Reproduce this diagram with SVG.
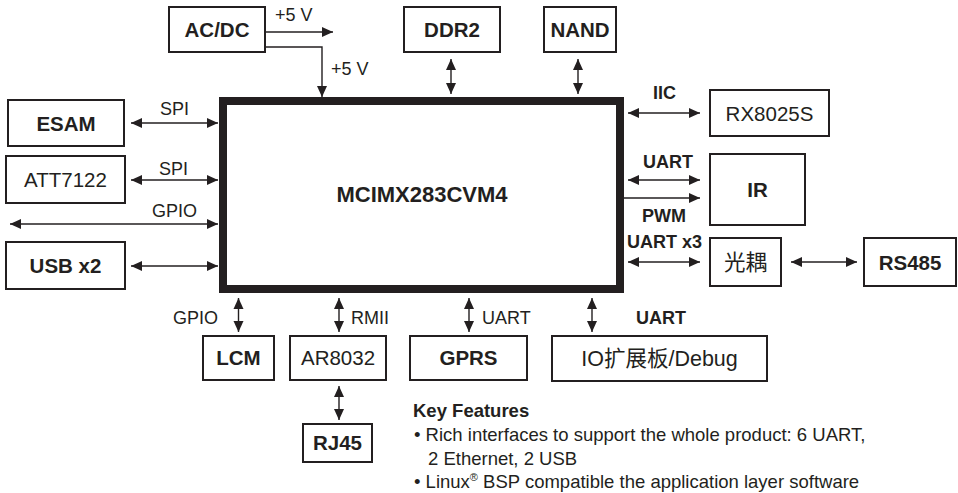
<svg xmlns="http://www.w3.org/2000/svg" width="958" height="493" viewBox="0 0 958 493">
<defs>
<marker id="ah" markerUnits="userSpaceOnUse" markerWidth="12" markerHeight="11" refX="11" refY="5" orient="auto-start-reverse" viewBox="0 0 12 10">
<path d="M0,0 L11,5 L0,10 z" fill="#231f20"/>
</marker>
<style>
.box{fill:#fff;stroke:#231f20;stroke-width:2}
.main{fill:#fff;stroke:#231f20;stroke-width:8}
.t{font-family:"Liberation Sans","Noto Sans CJK SC",sans-serif;fill:#231f20;text-anchor:middle}
.b{font-weight:bold;font-size:20.5px}
.r{font-size:20.5px}
.cjk{font-size:21.5px}
.lbl{font-family:"Liberation Sans",sans-serif;fill:#231f20;font-size:18px}
.lb{font-weight:bold}
.c{stroke:#231f20;stroke-width:1.4;fill:none}
.d{marker-start:url(#ah);marker-end:url(#ah)}
.s{marker-end:url(#ah)}
.kf{font-family:"Liberation Sans",sans-serif;fill:#231f20;font-size:18.5px}
</style>
</defs>
<g id="connectors">
<line class="c s" x1="266" y1="32" x2="333" y2="32"/>
<polyline class="c s" points="266,47 322,47 322,97"/>
<line class="c d" x1="451" y1="59" x2="451" y2="94"/>
<line class="c d" x1="578" y1="59" x2="578" y2="94"/>
<line class="c d" x1="628" y1="113" x2="700" y2="113"/>
<line class="c d" x1="628" y1="180" x2="700" y2="180"/>
<line class="c s" x1="624" y1="198" x2="700" y2="198"/>
<line class="c d" x1="628" y1="262" x2="700" y2="262"/>
<line class="c d" x1="791" y1="262" x2="857" y2="262"/>
<line class="c d" x1="131" y1="123" x2="218" y2="123"/>
<line class="c d" x1="131" y1="180" x2="218" y2="180"/>
<line class="c d" x1="10" y1="224" x2="218" y2="224"/>
<line class="c d" x1="131" y1="266" x2="218" y2="266"/>
<line class="c d" x1="238.5" y1="298" x2="238.5" y2="332"/>
<line class="c d" x1="339" y1="298" x2="339" y2="332"/>
<line class="c d" x1="469" y1="298" x2="469" y2="332"/>
<line class="c d" x1="592" y1="298" x2="592" y2="332"/>
<line class="c d" x1="339" y1="386" x2="339" y2="420"/>
<text class="lbl" x="275" y="21">+5 V</text>
<text class="lbl" x="331" y="75">+5 V</text>
<text class="lbl lb" x="653" y="99">IIC</text>
<text class="lbl lb" x="643" y="168">UART</text>
<text class="lbl lb" x="642" y="222">PWM</text>
<text class="lbl lb" x="627" y="248">UART x3</text>
<text class="lbl" x="160" y="115">SPI</text>
<text class="lbl" x="159" y="175">SPI</text>
<text class="lbl" x="152" y="217">GPIO</text>
<text class="lbl" x="173" y="324">GPIO</text>
<text class="lbl" x="351" y="324">RMII</text>
<text class="lbl" x="482" y="324">UART</text>
<text class="lbl lb" x="636" y="324">UART</text>
</g>
<g id="main">
<rect class="main" x="223" y="101" width="397" height="188"/>
<text class="t" x="422" y="202" font-weight="bold" font-size="22">MCIMX283CVM4</text>
</g>
<g id="acdc"><rect class="box" x="169" y="7" width="96" height="45"/><text class="t b" x="217" y="36.5">AC/DC</text></g>
<g id="ddr2"><rect class="box" x="404" y="7" width="96" height="45"/><text class="t b" x="452" y="36.5">DDR2</text></g>
<g id="nand"><rect class="box" x="544" y="7" width="72" height="45"/><text class="t b" x="580" y="36.5">NAND</text></g>
<g id="esam"><rect class="box" x="8" y="100" width="116" height="46"/><text class="t b" x="66" y="130.5">ESAM</text></g>
<g id="att7122"><rect class="box" x="6" y="156" width="119" height="47"/><text class="t r" x="65.5" y="187">ATT7122</text></g>
<g id="usb"><rect class="box" x="6" y="242" width="119" height="47"/><text class="t b" x="65.5" y="273">USB x2</text></g>
<g id="rx8025s"><rect class="box" x="710" y="90" width="119" height="46"/><text class="t r" x="769.5" y="120.5">RX8025S</text></g>
<g id="ir"><rect class="box" x="710" y="154" width="95" height="71"/><text class="t b" x="757.5" y="197">IR</text></g>
<g id="optocoupler"><rect class="box" x="710" y="238" width="71" height="48"/><text class="t cjk" x="745.5" y="269.5">光耦</text></g>
<g id="rs485"><rect class="box" x="864" y="238" width="92" height="48"/><text class="t b" x="910" y="269.5">RS485</text></g>
<g id="lcm"><rect class="box" x="203" y="336" width="71" height="44"/><text class="t b" x="238.5" y="365">LCM</text></g>
<g id="ar8032"><rect class="box" x="290" y="336" width="96" height="44"/><text class="t r" x="338" y="365">AR8032</text></g>
<g id="gprs"><rect class="box" x="410" y="336" width="117" height="44"/><text class="t b" x="468.5" y="365">GPRS</text></g>
<g id="io"><rect class="box" x="552" y="336" width="215" height="45"/><text class="t cjk" x="659.5" y="366" font-size="22">IO扩展板/Debug</text></g>
<g id="rj45"><rect class="box" x="303" y="424" width="69" height="38"/><text class="t b" x="337.5" y="450">RJ45</text></g>
<g id="features">
<text class="kf" x="413" y="417" font-weight="bold" font-size="18">Key Features</text>
<text class="kf" x="414" y="441">• Rich interfaces to support the whole product: 6 UART,</text>
<text class="kf" x="428" y="464.5">2 Ethernet, 2 USB</text>
<text class="kf" x="414" y="488">• Linux<tspan font-size="11" dy="-7">®</tspan><tspan dy="7"> BSP compatible the application layer software</tspan></text>
</g>
</svg>
